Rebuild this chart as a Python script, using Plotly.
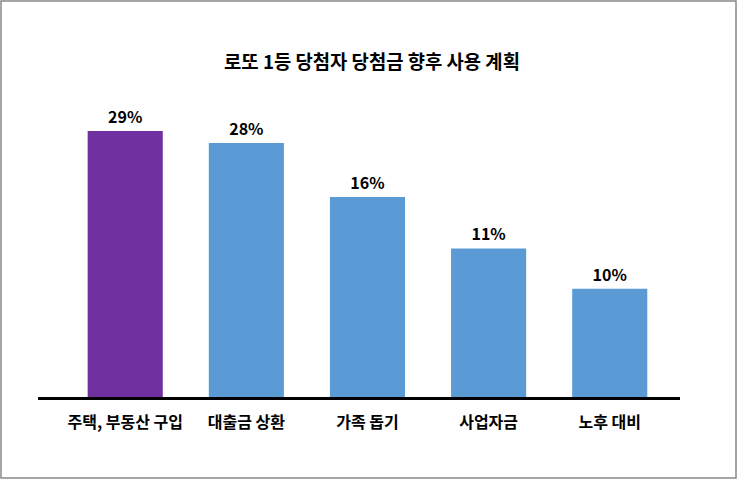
import plotly.graph_objects as go

# categories and values
categories = ["주택, 부동산 구입", "대출금 상환", "가족 돕기", "사업자금", "노후 대비"]
value_labels = ["29%", "28%", "16%", "11%", "10%"]
# bar heights as drawn in the picture (not proportional to the labels)
bar_heights = [29, 27.7, 21.8, 16.2, 11.8]
bar_colors = ["#7030A0", "#5B9BD5", "#5B9BD5", "#5B9BD5", "#5B9BD5"]

W, H = 737, 479
L, R, T, B = 38, 57, 100, 82
pw, ph = W - L - R, H - T - B

font = "Noto Sans CJK KR, Malgun Gothic, sans-serif"

fig = go.Figure(
    go.Bar(
        x=categories,
        y=bar_heights,
        marker=dict(color=bar_colors, line=dict(width=0)),
        width=0.62,
        text=value_labels,
        textposition="outside",
        textfont=dict(family=font, size=16, color="black", weight="bold"),
        cliponaxis=False,
        hoverinfo="skip",
    )
)

fig.update_layout(
    width=W, height=H,
    margin=dict(l=L, r=R, t=T, b=B),
    paper_bgcolor="white",
    plot_bgcolor="white",
    showlegend=False,
    title=dict(
        text="로또 1등 당첨자 당첨금 향후 사용 계획",
        x=(372 / W), xanchor="center",
        y=1 - 62 / H, yanchor="middle",
        font=dict(family=font, size=18.8, color="black", weight="bold"),
    ),
    xaxis=dict(
        range=[-0.72, 4.58],
        showline=True, linecolor="black", linewidth=3,
        ticks="", showgrid=False, zeroline=False,
        tickfont=dict(family=font, size=16, color="black", weight="bold"),
        ticklabelstandoff=9,
    ),
    yaxis=dict(
        range=[0, ph / 9.17],
        visible=False, showgrid=False, zeroline=False,
    ),
    shapes=[dict(
        type="rect", xref="paper", yref="paper",
        x0=-(L - 1) / pw, x1=1 + (R - 1) / pw,
        y0=-(B - 1) / ph, y1=1 + (T - 1) / ph,
        line=dict(color="#888888", width=1.5),
        fillcolor="rgba(0,0,0,0)",
    )],
)

# drop the default page margin so the figure sits at the window corner
fig.write_html(
    "out.html",
    config={"displayModeBar": False},
    post_script="document.body.style.margin='0';",
)
